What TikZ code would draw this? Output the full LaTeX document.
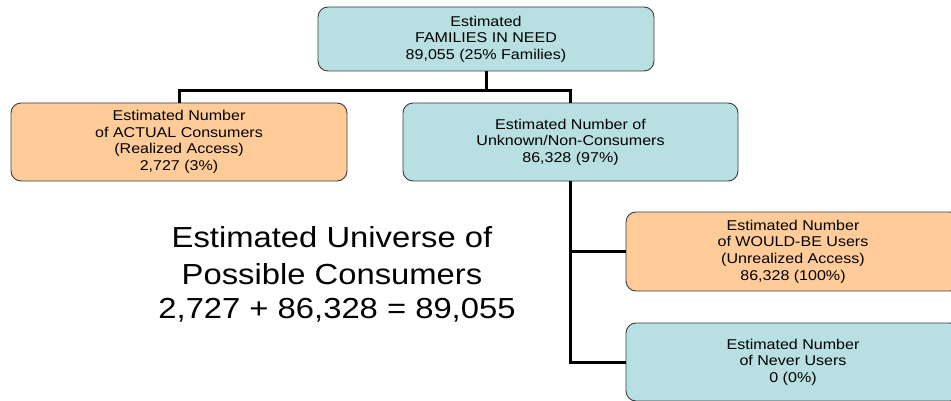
\documentclass[tikz,border=0pt]{standalone}
\usepackage{fontspec}
\setmainfont{Liberation Sans}[FakeStretch=1.13]
\definecolor{boxblue}{RGB}{184,223,226}
\definecolor{boxorange}{RGB}{255,204,153}
\definecolor{boxline}{RGB}{60,60,60}

\begin{document}
\begin{tikzpicture}[x=1pt,y=-1pt]
    \tikzset{
      box/.style = {draw=boxline, line width=0.9pt, rounded corners=10pt,
                    align=center, inner sep=0pt,
                    font=\fontsize{14.2}{16.6}\selectfont},
      bluebox/.style = {box, fill=boxblue},
      orangebox/.style = {box, fill=boxorange},
      conn/.style = {line width=3pt},
      bigtext/.style = {inner sep=0pt, align=center,
                        font=\fontsize{29}{37}\selectfont}
    }
    \useasboundingbox (0,0) rectangle (951,401);
    \clip (0,0) rectangle (951,401);
    \node[bluebox, minimum width=336pt, minimum height=64pt] (need) at (486,39)
      {Estimated\\FAMILIES IN NEED\\89,055 (25\% Families)};
    \node[orangebox, minimum width=336pt, minimum height=78pt] (actual) at (179,142)
      {Estimated Number\\of ACTUAL Consumers\\(Realized Access)\\2,727 (3\%)};
    \node[bluebox, minimum width=335pt, minimum height=78pt] (unknown) at (570.5,142)
      {Estimated Number of\\Unknown/Non-Consumers\\86,328 (97\%)};
    \node[orangebox, minimum width=334pt, minimum height=79pt] (wouldbe) at (793,251.5)
      {Estimated Number\\of WOULD-BE Users\\(Unrealized Access)\\86,328 (100\%)};
    \node[bluebox, minimum width=334pt, minimum height=78pt] (never) at (793,362)
      {Estimated Number\\of Never Users\\0 (0\%)};
    \node[bigtext] (universe) at (332,256)
      {Estimated Universe of\\Possible Consumers};
    \node[bigtext, anchor=base] (sum) at (337,318) {2,727 + 86,328 = 89,055};
    \coordinate (bus) at (486,91);
    \draw[conn] (need.south) -- (bus);
    \draw[conn] (actual.north) |- (bus) -| (unknown.north);
    \draw[conn] (unknown.south) |- (wouldbe.west);
    \draw[conn] (unknown.south) |- (never.west);
\end{tikzpicture}
\end{document}
